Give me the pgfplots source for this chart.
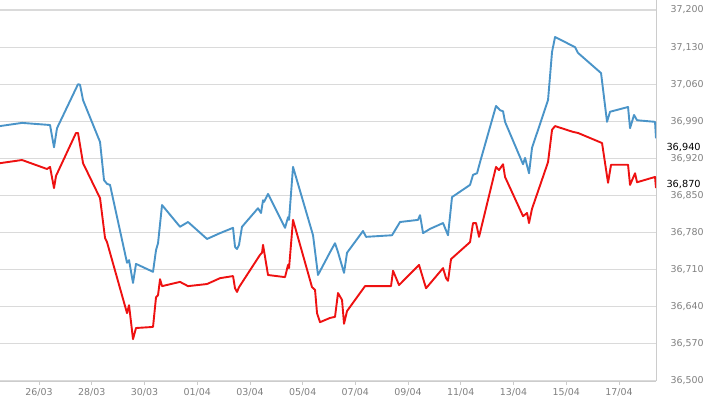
\documentclass[border=0pt]{standalone}
\usepackage{pgfplots}
\pgfplotsset{compat=1.18}
\usepackage{fontspec}
\setmainfont{DejaVu Sans}
\definecolor{gridc}{HTML}{DADADA}
\definecolor{axc}{HTML}{CCCCCC}
\definecolor{tickc}{HTML}{808080}
\definecolor{blueL}{HTML}{4A94C8}
\definecolor{redL}{HTML}{EE1111}
\begin{document}
\begin{tikzpicture}
\begin{axis}[
  name=ax,
  scale only axis,
  width=685.5bp, height=381bp,
  xmin=-0.6, xmax=25.405,
  ymin=36500, ymax=37218.9,
  axis x line*=bottom,
  axis y line*=right,
  xtick pos=bottom,
  ytick pos=right,
  yticklabel pos=right,
  axis line style={draw=axc, line width=1bp},
  ymajorgrids,
  grid style={draw=gridc, line width=1.1bp},
  ytick={36500,36570,36640,36710,36780,36850,36920,36990,37060,37130,37200},
  yticklabels={36{,}500,36{,}570,36{,}640,36{,}710,36{,}780,36{,}850,36{,}920,36{,}990,37{,}060,37{,}130,37{,}200},
  ytick style={draw=none},
  xtick={0,2,4,6,8,10,12,14,16,18,20,22,24},
  xticklabels={24/03,26/03,28/03,30/03,01/04,03/04,05/04,07/04,09/04,11/04,13/04,15/04,17/04},
  xtick style={draw=axc, line width=0.8bp},
  tick align=outside,
  major tick length=4bp,
  every tick label/.append style={font=\fontsize{9.5}{11}\selectfont, text=tickc},
  yticklabel style={anchor=west, xshift=7bp},
  clip mode=individual,
]
\addplot[blueL, line width=1.9bp, line join=round] coordinates {
(0.52,36981)(1.354,36987)(2.417,36983)(2.568,36941)(2.682,36977)(3.479,37060)(3.555,37059)(3.669,37030)
(4.314,36951)(4.465,36879)(4.579,36872)(4.693,36870)(5.338,36723)(5.414,36728)(5.565,36685)(5.679,36721)
(6.324,36706)(6.438,36747)(6.514,36760)(6.666,36832)(7.348,36791)(7.652,36800)(8.373,36768)(8.866,36779)
(9.359,36789)(9.435,36753)(9.511,36749)(9.587,36757)(9.700,36791)(10.307,36826)(10.421,36817)(10.497,36841)
(10.535,36838)(10.687,36853)(11.332,36789)(11.446,36809)(11.484,36804)(11.635,36904)(12.394,36775)(12.583,36700)
(13.039,36743)(13.228,36760)(13.342,36743)(13.570,36704)(13.684,36742)(14.291,36783)(14.405,36772)(15.391,36775)
(15.694,36800)(16.377,36804)(16.453,36813)(16.567,36779)(16.832,36787)(17.326,36798)(17.515,36775)(17.667,36847)
(18.350,36870)(18.464,36889)(18.616,36892)(18.730,36913)(19.336,37019)(19.488,37011)(19.602,37009)(19.678,36989)
(20.361,36909)(20.437,36921)(20.588,36892)(20.702,36940)(21.309,37030)(21.461,37121)(21.575,37149)(22.333,37130)
(22.447,37119)(23.320,37081)(23.547,36989)(23.661,37008)(24.344,37017)(24.420,36977)(24.572,37002)(24.685,36992)
(25.368,36989)(25.405,36958)
};
\addplot[redL, line width=1.9bp, line join=round] coordinates {
(0.52,36911)(1.354,36917)(2.303,36900)(2.417,36904)(2.568,36864)(2.644,36887)(3.403,36968)(3.479,36968)
(3.669,36911)(4.314,36845)(4.503,36770)(4.579,36762)(5.338,36628)(5.414,36643)(5.565,36579)(5.679,36600)
(6.324,36602)(6.438,36658)(6.514,36662)(6.590,36692)(6.666,36679)(7.348,36687)(7.652,36679)(8.373,36683)
(8.866,36694)(9.359,36698)(9.435,36675)(9.511,36668)(9.587,36677)(10.383,36738)(10.459,36742)(10.497,36757)
(10.687,36700)(11.332,36696)(11.446,36719)(11.484,36713)(11.635,36804)(12.356,36677)(12.470,36672)(12.546,36628)
(12.659,36611)(13.039,36619)(13.228,36621)(13.342,36666)(13.494,36653)(13.570,36608)(13.684,36632)(14.367,36679)
(15.353,36679)(15.429,36708)(15.657,36681)(16.415,36719)(16.681,36675)(17.326,36713)(17.440,36694)(17.515,36689)
(17.629,36730)(18.350,36762)(18.464,36798)(18.578,36798)(18.692,36772)(19.336,36904)(19.450,36898)(19.602,36909)
(19.678,36885)(20.361,36811)(20.513,36817)(20.588,36798)(20.702,36825)(21.309,36913)(21.461,36974)(21.575,36981)
(22.257,36970)(22.447,36968)(23.358,36949)(23.585,36874)(23.699,36908)(24.344,36908)(24.420,36870)(24.610,36892)
(24.685,36875)(25.368,36885)(25.405,36864)
};
\node[anchor=west, xshift=7bp, font=\fontsize{9.8}{11}\selectfont, text=black] at (axis cs:25.405,36940) {36,940};
\node[anchor=west, xshift=7bp, font=\fontsize{9.8}{11}\selectfont, text=black] at (axis cs:25.405,36870) {36,870};
\end{axis}
\pgfresetboundingbox
\path[use as bounding box] ([shift={(-656bp,-18bp)}]ax.south east) rectangle ([shift={(54bp,381bp)}]ax.south east);
\end{tikzpicture}
\end{document}
